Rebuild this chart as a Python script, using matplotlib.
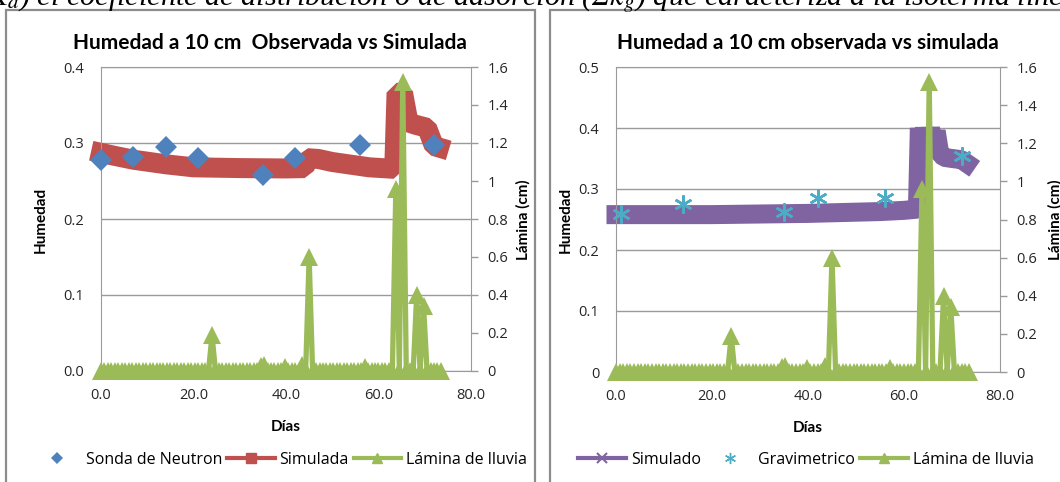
import numpy as np
import matplotlib
matplotlib.use('Agg')
import matplotlib.pyplot as plt
from matplotlib.lines import Line2D
from matplotlib.patches import Rectangle

plt.rcParams['font.family'] = ['Lato', 'DejaVu Sans']
plt.rcParams['mathtext.fontset'] = 'stix'

# ---- datos grafico izquierdo ----
dias_sonda = [0, 7, 14, 21, 35, 42, 56, 72]
hum_sonda = [0.277, 0.281, 0.295, 0.280, 0.258, 0.280, 0.298, 0.298]

dias_sim1 = [0, 3, 7, 14, 20, 30, 40, 44.0, 44.6, 47, 50, 58, 63.4, 63.9, 65.3, 66.5, 68, 70.5, 72, 73.1]
hum_sim1 = [0.287, 0.283, 0.278, 0.272, 0.268, 0.267, 0.2665, 0.267, 0.280, 0.279, 0.275, 0.268,
            0.266, 0.366, 0.366, 0.327, 0.324, 0.320, 0.296, 0.294]

# ---- datos grafico derecho ----
dias_grav = [1, 14, 35, 42, 56, 72]
hum_grav = [0.259, 0.276, 0.263, 0.286, 0.286, 0.354]

dias_sim2 = [0, 10, 20, 30, 40, 50, 55, 60, 62.8, 63.2, 63.7, 64.3, 64.9, 65.5, 66.1, 66.7, 67.4, 68.3, 70, 72, 73.1]
hum_sim2 = [0.258, 0.258, 0.258, 0.259, 0.260, 0.262, 0.263, 0.265, 0.267, 0.400, 0.360, 0.400, 0.360,
            0.400, 0.370, 0.395, 0.360, 0.352, 0.350, 0.348, 0.342]

# ---- lamina de lluvia (cm), lecturas cada 0.75 dias ----
dias_lluvia = np.arange(0, 73.6, 0.75)
eventos_dia = [24.0, 34.5, 35.25, 39.75, 43.5, 45.0, 57.0, 63.75, 65.25, 68.25, 69.75]
eventos_cm = [0.19, 0.025, 0.03, 0.02, 0.03, 0.60, 0.02, 0.96, 1.52, 0.40, 0.34]
lamina = np.zeros(len(dias_lluvia))
for d, v in zip(eventos_dia, eventos_cm):
    lamina[np.argmin(np.abs(dias_lluvia - d))] = v

azul = '#4F81BD'
rojo = '#C0504D'
verde = '#9BBB59'
morado = '#8064A2'
celeste = '#4BACC6'
gris = '#8C8C8C'
texto = '#262626'
fuente_num = ['Open Sans', 'DejaVu Sans']

W, H = 1060, 482
fig = plt.figure(figsize=(W / 100, H / 100), dpi=100)

# texto cortado del documento
fig.text(-0.012, 1 - 5 / H,
         r"$K_d$) el coeficiente de distribución o de adsorción (Σ$k_g$) que caracteriza a la isoterma lineal",
         family='Liberation Serif', style='italic', fontsize=21.8, va='baseline', ha='left')

# marcos de los graficos
fig.patches.append(Rectangle((6 / W, -0.1), 529 / W, 1.1 - 10 / H, transform=fig.transFigure,
                             fill=False, edgecolor=gris, lw=1.6))
fig.patches.append(Rectangle((550 / W, -0.1), 0.6, 1.1 - 10 / H, transform=fig.transFigure,
                             fill=False, edgecolor=gris, lw=1.6))


def armar(ax, ymax, ylabels):
    ax.set_xlim(0, 80)
    ax.set_ylim(0, ymax)
    ax.set_xticks([0, 20, 40, 60, 80])
    ax.set_xticklabels(['0.0', '20.0', '40.0', '60.0', '80.0'], family=fuente_num)
    ax.set_yticks(np.linspace(0, ymax, len(ylabels)))
    ax.set_yticklabels(ylabels, family=fuente_num)
    ax.tick_params(axis='y', length=0, pad=12, labelsize=10.5, labelcolor=texto)
    ax.tick_params(axis='x', length=0, pad=12, labelsize=10.5, labelcolor=texto)
    ax.grid(axis='y', color='#9a9a9a', lw=1)
    ax.set_axisbelow(True)
    for s in ['left', 'bottom', 'top']:
        ax.spines[s].set_color('#9a9a9a')
    ax.spines['right'].set_visible(False)
    ax2 = ax.twinx()
    ax2.set_ylim(0, 1.6)
    ax2.set_yticks(np.arange(0, 1.61, 0.2))
    ax2.set_yticklabels(['0', '0.2', '0.4', '0.6', '0.8', '1', '1.2', '1.4', '1.6'], family=fuente_num)
    ax2.tick_params(axis='y', length=5, width=1, color='#9a9a9a', pad=7, labelsize=10.5, labelcolor=texto)
    for s in ['left', 'bottom', 'top']:
        ax2.spines[s].set_visible(False)
    ax2.spines['right'].set_color('#9a9a9a')
    ax2.plot(dias_lluvia, lamina, color=verde, lw=3.8, marker='^', markersize=13.5,
             markeredgewidth=0, clip_on=False, solid_joinstyle='miter')
    return ax2


# ---------- izquierdo ----------
ax1 = fig.add_axes([101 / W, 1 - 371 / H, 370 / W, 304 / H])
ax1.plot(dias_sim1, hum_sim1, color=rojo, lw=14.4, solid_capstyle='projecting',
         solid_joinstyle='bevel', clip_on=False, zorder=2)
ax1.plot(dias_sonda, hum_sonda, linestyle='None', marker='D', markersize=11,
         color=azul, markeredgewidth=0, clip_on=False, zorder=3)
armar(ax1, 0.4, ['0.0', '0.1', '0.2', '0.3', '0.4'])

fig.text(270 / W, 1 - 43 / H, 'Humedad a 10 cm  Observada vs Simulada', ha='center', va='center',
         fontsize=15, fontweight='bold')
fig.text(41 / W, 1 - 220 / H, 'Humedad', rotation=90, ha='center', va='center',
         fontsize=11, fontweight='bold')
fig.text(523 / W, 1 - 220 / H, 'Lámina (cm)', rotation=90, ha='center', va='center',
         fontsize=11, fontweight='bold')
fig.text(286 / W, 1 - 427 / H, 'Días', ha='center', va='center', fontsize=11, fontweight='bold')

h1 = [Line2D([], [], color=azul, marker='D', linestyle='None', markersize=6, markeredgewidth=0),
      Line2D([], [], color=rojo, lw=3, marker='s', markersize=7),
      Line2D([], [], color=verde, lw=3, marker='^', markersize=7)]
ax1.legend(h1, ['Sonda de Neutron', 'Simulada', 'Lámina de lluvia'], loc='center',
           bbox_to_anchor=(280 / W, 1 - 460 / H), bbox_transform=fig.transFigure, ncol=3,
           frameon=False, prop={'family': fuente_num, 'size': 11.5},
           handlelength=3, handletextpad=0.3, columnspacing=0.3)

# ---------- derecho ----------
ax3 = fig.add_axes([616 / W, 1 - 372 / H, 384 / W, 305 / H])
ax3.plot(dias_sim2, hum_sim2, color=morado, lw=13.7, solid_capstyle='projecting',
         solid_joinstyle='bevel', clip_on=False, zorder=2)
ax3.plot(dias_grav, hum_grav, linestyle='None', marker=(6, 2, 0), markersize=13,
         markeredgewidth=1.8, color=celeste, clip_on=False, zorder=3)
armar(ax3, 0.5, ['0', '0.1', '0.2', '0.3', '0.4', '0.5'])

fig.text(808 / W, 1 - 43 / H, 'Humedad a 10 cm observada vs simulada', ha='center', va='center',
         fontsize=15, fontweight='bold')
fig.text(566 / W, 1 - 220 / H, 'Humedad', rotation=90, ha='center', va='center',
         fontsize=11, fontweight='bold')
fig.text(1055 / W, 1 - 220 / H, 'Lámina (cm)', rotation=90, ha='center', va='center',
         fontsize=11, fontweight='bold')
fig.text(808 / W, 1 - 428 / H, 'Días', ha='center', va='center', fontsize=11, fontweight='bold')

h2 = [Line2D([], [], color=morado, lw=3, marker='x', markersize=7, markeredgewidth=1.5),
      Line2D([], [], color=celeste, marker=(6, 2, 0), linestyle='None', markersize=8, markeredgewidth=1),
      Line2D([], [], color=verde, lw=3, marker='^', markersize=7)]
ax3.legend(h2, ['Simulado', 'Gravimetrico', 'Lámina de lluvia'], loc='center',
           bbox_to_anchor=(806 / W, 1 - 460 / H), bbox_transform=fig.transFigure, ncol=3,
           frameon=False, prop={'family': fuente_num, 'size': 11.5},
           handlelength=3, handletextpad=0.3, columnspacing=0.3)

fig.savefig('out.png', dpi=100)
